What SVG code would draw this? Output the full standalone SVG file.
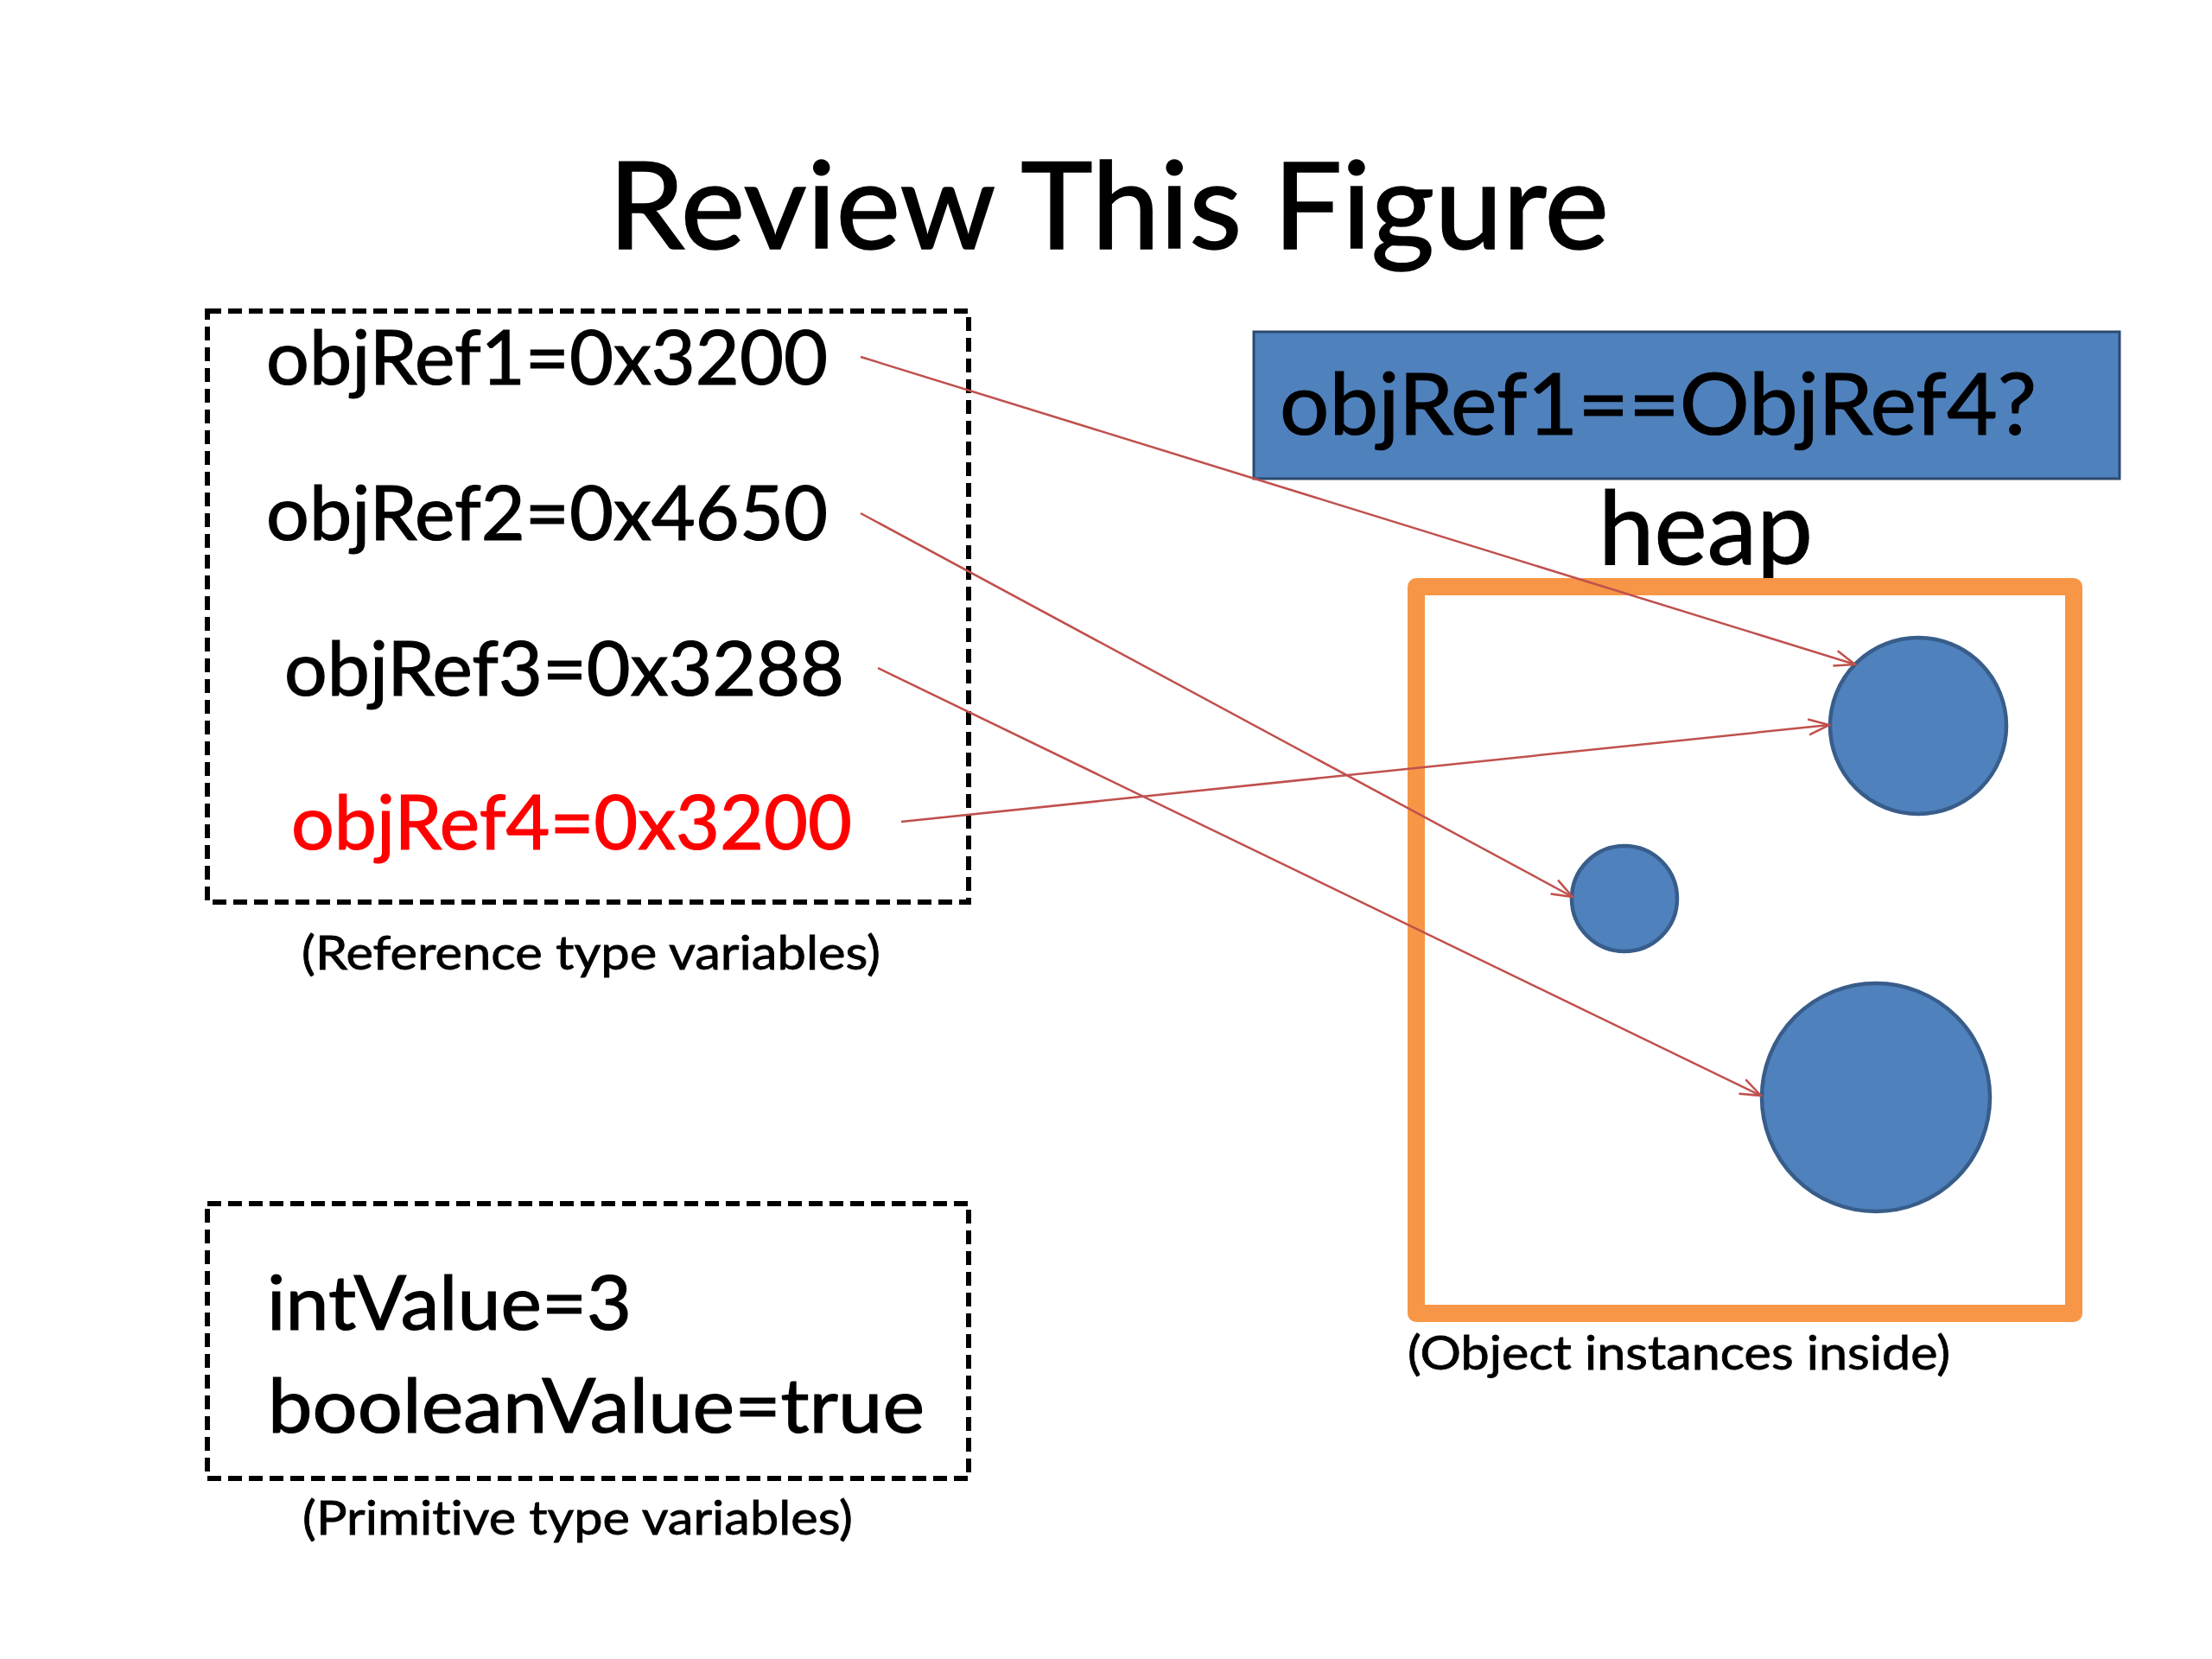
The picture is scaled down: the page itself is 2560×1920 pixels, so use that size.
<svg xmlns="http://www.w3.org/2000/svg" width="2560" height="1920" viewBox="0 0 2560 1920">
  <style>
    text { font-family: Lato, "Liberation Sans", sans-serif; fill: #000000; stroke: #000000; stroke-width: 1.2; font-variant-ligatures: none; font-feature-settings: "liga" 0, "clig" 0; }
    .title { font-size: 140px; stroke-width: 1.6; }
    .var { font-size: 88px; }
    .red { fill: #FF0000; stroke: #FF0000; }
    .cap { font-size: 54px; stroke-width: 0.8; }
    .dash { fill: none; stroke: #000000; stroke-width: 6; stroke-dasharray: 16 8; }
    .obj { fill: #4F81BD; stroke: #385D8A; stroke-width: 4.5; }
    .conn { fill: none; stroke: #C0504D; stroke-width: 2.5; marker-end: url(#arrow); }
  </style>
  <defs>
    <marker id="arrow" markerUnits="userSpaceOnUse" viewBox="0 0 28 22" refX="26" refY="11" markerWidth="28" markerHeight="22" orient="auto">
      <path d="M2,2 L26,11 L2,20" fill="none" stroke="#C0504D" stroke-width="2.5"/>
    </marker>
  </defs>
  <rect width="2560" height="1920" fill="#FFFFFF"/>

  <g id="title">
    <text class="title" x="704" y="288" textLength="1158" lengthAdjust="spacingAndGlyphs">Review This Figure</text>
  </g>

  <g id="reference-vars">
    <rect class="dash" x="240" y="360" width="881" height="684"/>
    <text class="var" x="308" y="445" textLength="650" lengthAdjust="spacingAndGlyphs">objRef1=0x3200</text>
    <text class="var" x="308" y="625" textLength="650" lengthAdjust="spacingAndGlyphs">objRef2=0x4650</text>
    <text class="var" x="329" y="805" textLength="648" lengthAdjust="spacingAndGlyphs">objRef3=0x3288</text>
    <text class="var red" x="337" y="983" textLength="649" lengthAdjust="spacingAndGlyphs">objRef4=0x3200</text>
    <text class="cap" x="349" y="1122" textLength="670" lengthAdjust="spacingAndGlyphs">(Reference type variables)</text>
  </g>

  <g id="primitive-vars">
    <rect class="dash" x="240" y="1393" width="881" height="318"/>
    <text class="var" x="309" y="1539" textLength="422" lengthAdjust="spacingAndGlyphs">intValue=3</text>
    <text class="var" x="310" y="1658" textLength="760" lengthAdjust="spacingAndGlyphs">booleanValue=true</text>
    <text class="cap" x="350" y="1776" textLength="637" lengthAdjust="spacingAndGlyphs">(Primitive type variables)</text>
  </g>

  <g id="question">
    <rect x="1451" y="384" width="1002" height="170" fill="#4F81BD" stroke="#2C4A6E" stroke-width="3"/>
    <text x="1481" y="503" font-size="99" textLength="876" lengthAdjust="spacingAndGlyphs">objRef1==ObjRef4?</text>
  </g>

  <g id="heap">
    <text x="1850" y="653" font-size="118" textLength="248" lengthAdjust="spacingAndGlyphs">heap</text>
    <rect x="1639" y="679" width="761" height="841" fill="none" stroke="#F79646" stroke-width="20" stroke-linejoin="round"/>
    <text class="cap" x="1629" y="1585" textLength="628" lengthAdjust="spacingAndGlyphs">(Object instances inside)</text>
  </g>

  <g id="obj-0x3200">
    <circle class="obj" cx="2220" cy="840" r="102"/>
  </g>
  <g id="obj-0x4650">
    <circle class="obj" cx="1880" cy="1040" r="61"/>
  </g>
  <g id="obj-0x3288">
    <circle class="obj" cx="2171" cy="1270" r="132"/>
  </g>

  <g id="connectors">
    <line class="conn" x1="996" y1="413" x2="2147" y2="769"/>
    <line class="conn" x1="996" y1="594" x2="1820" y2="1038"/>
    <line class="conn" x1="1016" y1="773" x2="2038" y2="1268"/>
    <line class="conn" x1="1043" y1="951" x2="2117" y2="839"/>
  </g>
</svg>
